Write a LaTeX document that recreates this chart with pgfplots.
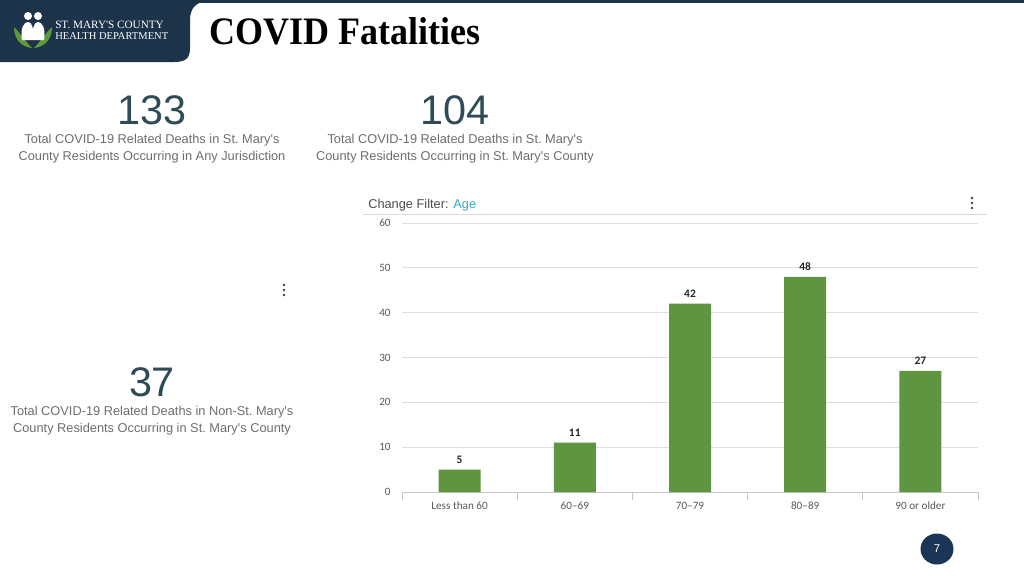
\documentclass[border=0pt]{standalone}
\usepackage{fontspec}
\usepackage{pgfplots}
\pgfplotsset{compat=1.18}
\setmainfont{Liberation Sans}
\newfontfamily\serif{Liberation Serif}
\newfontfamily\chartfont{Carlito}
\definecolor{navy}{HTML}{1D3349}
\definecolor{pagenavy}{HTML}{1C3557}
\definecolor{bignum}{HTML}{2E4B56}
\definecolor{capgray}{HTML}{6E6E6E}
\definecolor{barg}{HTML}{5F9440}
\definecolor{leaf}{HTML}{5C9A3C}
\definecolor{filt}{HTML}{3AA7C9}
\newcommand{\ap}{\textquotesingle}
\begin{document}
\begin{tikzpicture}[x=0.75pt,y=-0.75pt]
% page
\fill[white] (0,0) rectangle (1024,576);
% header
\fill[navy] (0,0) rectangle (1024,3);
\fill[navy] (0,0) -- (212,0) .. controls (196,1) and (190,8) .. (190,20)
  -- (190,48) .. controls (190,58) and (186,62) .. (174,62) -- (0,62) -- cycle;
% logo
\fill[leaf] (14,27) .. controls (14,40) and (22,47) .. (32,48) .. controls (26,42) and (22,35) .. (14,27);
\fill[leaf] (52,27) .. controls (52,40) and (44,47) .. (34,48) .. controls (40,42) and (44,35) .. (52,27);
\fill[white] (28,16) circle (4);
\fill[white] (38,16) circle (4);
\fill[white] (22,40) .. controls (20,28) and (24,22) .. (28,22) .. controls (32,22) and (34,28) .. (33,40) -- cycle;
\fill[white] (33,40) .. controls (32,28) and (34,22) .. (38,22) .. controls (42,22) and (46,28) .. (44,40) -- cycle;
\node[anchor=west, text=white, font=\serif\fontsize{8.4pt}{9pt}\selectfont, inner sep=0] at (55,25) {ST.\ MARY\ap S COUNTY};
\node[anchor=west, text=white, font=\serif\fontsize{7.9pt}{9pt}\selectfont, inner sep=0] at (55,36) {HEALTH DEPARTMENT};
% title
\node[anchor=west, text=black, font=\serif\bfseries\fontsize{27pt}{30pt}\selectfont, inner sep=0, yscale=1.08] at (209,31) {COVID Fatalities};
% KPI tiles
\node[text=bignum, font=\fontsize{31pt}{33pt}\selectfont, inner sep=0] at (152,110) {133};
\node[text=capgray, font=\fontsize{9.6pt}{12.75pt}\selectfont, align=center, inner sep=0] at (152,149)
  {Total COVID-19 Related Deaths in St.\ Mary\ap s\\County Residents Occurring in Any Jurisdiction};
\node[text=bignum, font=\fontsize{31pt}{33pt}\selectfont, inner sep=0] at (455,110) {104};
\node[text=capgray, font=\fontsize{9.6pt}{12.75pt}\selectfont, align=center, inner sep=0] at (455,149)
  {Total COVID-19 Related Deaths in St.\ Mary\ap s\\County Residents Occurring in St.\ Mary\ap s County};
\node[text=bignum, font=\fontsize{31pt}{33pt}\selectfont, inner sep=0] at (152,382) {37};
\node[text=capgray, font=\fontsize{9.6pt}{12.75pt}\selectfont, align=center, inner sep=0] at (152,421)
  {Total COVID-19 Related Deaths in Non-St.\ Mary\ap s\\County Residents Occurring in St.\ Mary\ap s County};
% menu dots
\foreach \y in {-5,0,5} {\fill[black!75] (284,290+\y) circle (1.4);}
\foreach \y in {-5,0,5} {\fill[black!75] (972,203+\y) circle (1.4);}
% chart header
\node[anchor=west, text=black!70, font=\fontsize{9.6pt}{11pt}\selectfont, inner sep=0] at (368,205.5)
  {Change Filter: \textcolor{filt}{Age}};
\draw[black!15, line width=0.75pt] (363,214) -- (987,214);
% chart
\begin{axis}[
    at={(301.5pt,-369pt)}, anchor=south west,
    scale only axis,
    width=432pt, height=201.75pt,
    xmin=-0.5, xmax=4.5,
    ymin=0, ymax=60,
    ytick={0,10,...,60},
    xtick={0,1,2,3,4},
    xticklabels={Less than 60,60\textendash69,70\textendash79,80\textendash89,90 or older},
    ymajorgrids=true,
    grid style={black!13, line width=0.6pt},
    axis x line*=bottom,
    axis y line*=left,
    y axis line style={draw=none},
    x axis line style={black!22, line width=0.6pt},
    major tick style={draw=none},
    extra x ticks={-0.5,0.5,1.5,2.5,3.5,4.5},
    extra x tick labels={},
    extra x tick style={major tick style={draw=black!22, line width=0.6pt}, major tick length=6pt, tick align=outside, grid=none},
    ticklabel style={font=\chartfont\fontsize{8.4pt}{9pt}\selectfont, text=black!65},
    yticklabel style={xshift=-5pt},
    xticklabel style={yshift=-4pt},
    /pgf/number format/assume math mode=true,
    clip=false,
]
\addplot[ybar, bar width=31.5pt, fill=barg, draw=none,
    nodes near coords,
    nodes near coords style={font=\chartfont\bfseries\fontsize{8.6pt}{9pt}\selectfont, text=black!85, yshift=1pt}]
    coordinates {(0,5) (1,11) (2,42) (3,48) (4,27)};
\end{axis}
% page number
\fill[pagenavy] (937,549) ellipse (16.5 and 15.5);
\node[text=white, font=\fontsize{8.5pt}{9pt}\selectfont, inner sep=0] at (937,549) {7};
\end{tikzpicture}
\end{document}
